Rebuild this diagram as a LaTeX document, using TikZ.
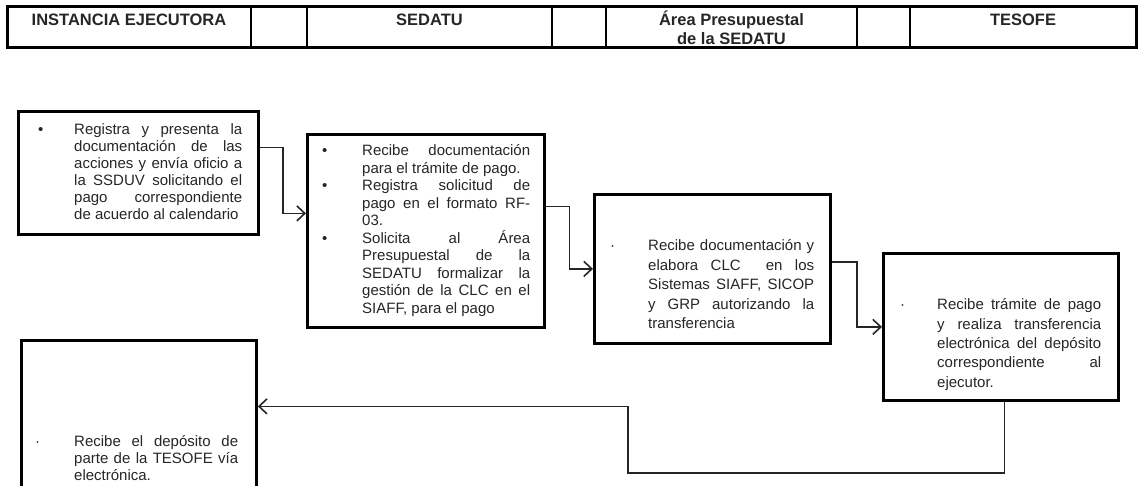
\documentclass[tikz,border=0pt]{standalone}
\usepackage{fontspec}
\setmainfont{Liberation Sans}
\usetikzlibrary{arrows.meta,positioning,calc,shadows}
\newcommand{\vineta}[3]{\hangindent=#1\hangafter=1\noindent\strut\makebox[#1][l]{#2}#3\par}
\tolerance=10000 \hbadness=10000 \hfuzz=2pt

\begin{document}
\begin{tikzpicture}[x=1pt,y=-1pt]
  \useasboundingbox (0,0) rectangle (1141,486);
  \tikzstyle{celda}=[draw,line width=2pt,inner sep=0pt,outer sep=0pt,minimum height=41]
  \tikzstyle{cab}=[inner sep=0pt,align=center,font=\fontsize{16.5}{19}\selectfont\bfseries,text=black!85]
  \tikzstyle{caja}=[draw,fill=white,line width=2.8pt,inner sep=0pt,anchor=north west,drop shadow={shadow xshift=1.2pt,shadow yshift=-1.2pt,fill=black!55}]
  \tikzstyle{txt}=[inner sep=0pt,anchor=base west,align=justify,text=black!85]
  \tikzstyle{flecha}=[-{Straight Barb[length=8pt,width=15pt]},line width=1.6pt,draw=black!85]
  % encabezado
  \foreach\n/\a/\b in{inst/7/251,h1/251/307,sed/307/552,h2/552/606,area/606/857,h3/857/910,tesc/910/1136}{\node[celda,minimum width=\b-\a,anchor=north west](\n)at(\a,7){};}
  \draw[line width=3pt](inst.north west)rectangle(tesc.south east);
  \foreach\n/\s/\t in{inst/19/INSTANCIA EJECUTORA,sed/19/SEDATU,area/38/{\'Area Presupuestal\\de la SEDATU},tesc/19/TESOFE}{\node[cab,anchor=base](\n-t)at([yshift=-\s pt]\n.north){\t};}
  % cajas
  \node[caja,minimum width=240,minimum height=123](reg)at(17,110){};
  \node[caja,minimum width=237,minimum height=193](pag)at(306,133){};
  \node[caja,minimum width=236,minimum height=149](sis)at(593,193){};
  \node[caja,minimum width=235,minimum height=147](tes)at(882,252){};
  \node[caja,minimum width=235,minimum height=152](rec)at(20,339){};
  \node[txt,text width=204,font=\fontsize{15}{17}\selectfont](reg-t)at(38,135){\vineta{36pt}{•}{Registra y presenta la\linebreak documentación de las\linebreak acciones y envía oficio a\linebreak la SSDUV solicitando el\linebreak pago correspondiente\linebreak de acuerdo al calendario}};
  \node[txt,text width=208,font=\fontsize{15}{17.5}\selectfont](pag-t)at(322,156){\vineta{40pt}{•}{Recibe documentación\linebreak para el trámite de pago.}\vineta{40pt}{•}{Registra solicitud de\linebreak pago en el formato RF-\linebreak 03.}\vineta{40pt}{•}{Solicita al Área\linebreak Presupuestal de la\linebreak SEDATU formalizar la\linebreak gestión de la CLC en el\linebreak SIAFF, para el pago}};
  \node[txt,text width=204,font=\fontsize{15}{19.5}\selectfont](sis-t)at(610,251){\vineta{38pt}{·}{Recibe documentación y\linebreak elabora CLC\ \ en los\linebreak Sistemas SIAFF, SICOP\linebreak y GRP autorizando la\linebreak transferencia}};
  \node[txt,text width=201,font=\fontsize{15}{19.3}\selectfont](tes-t)at(900,310){\vineta{37pt}{·}{Recibe trámite de pago\linebreak y realiza transferencia\linebreak electrónica del depósito\linebreak correspondiente al\linebreak ejecutor.}};
  \node[txt,text width=203,font=\fontsize{15}{17.5}\selectfont](rec-t)at(35,446){\vineta{39pt}{·}{Recibe el depósito de\linebreak parte de la TESOFE vía\linebreak electrónica.}};
  % conectores
  \foreach\o/\os/\d/\ds in{reg/25.5/pag/17.5,pag/24.5/sis/0,sis/7/tes/0}{\draw[flecha]([yshift=\os pt]\o.east)-|($([yshift=\os pt]\o.east)!.5!([yshift=\ds pt]\d.west)$)|-([yshift=\ds pt]\d.west);}
  \coordinate(vuelta)at(628,473);
  \draw[flecha]([xshift=3.5pt]tes.south)|-(vuelta)|-([yshift=10pt]rec.east);
\end{tikzpicture}
\end{document}
